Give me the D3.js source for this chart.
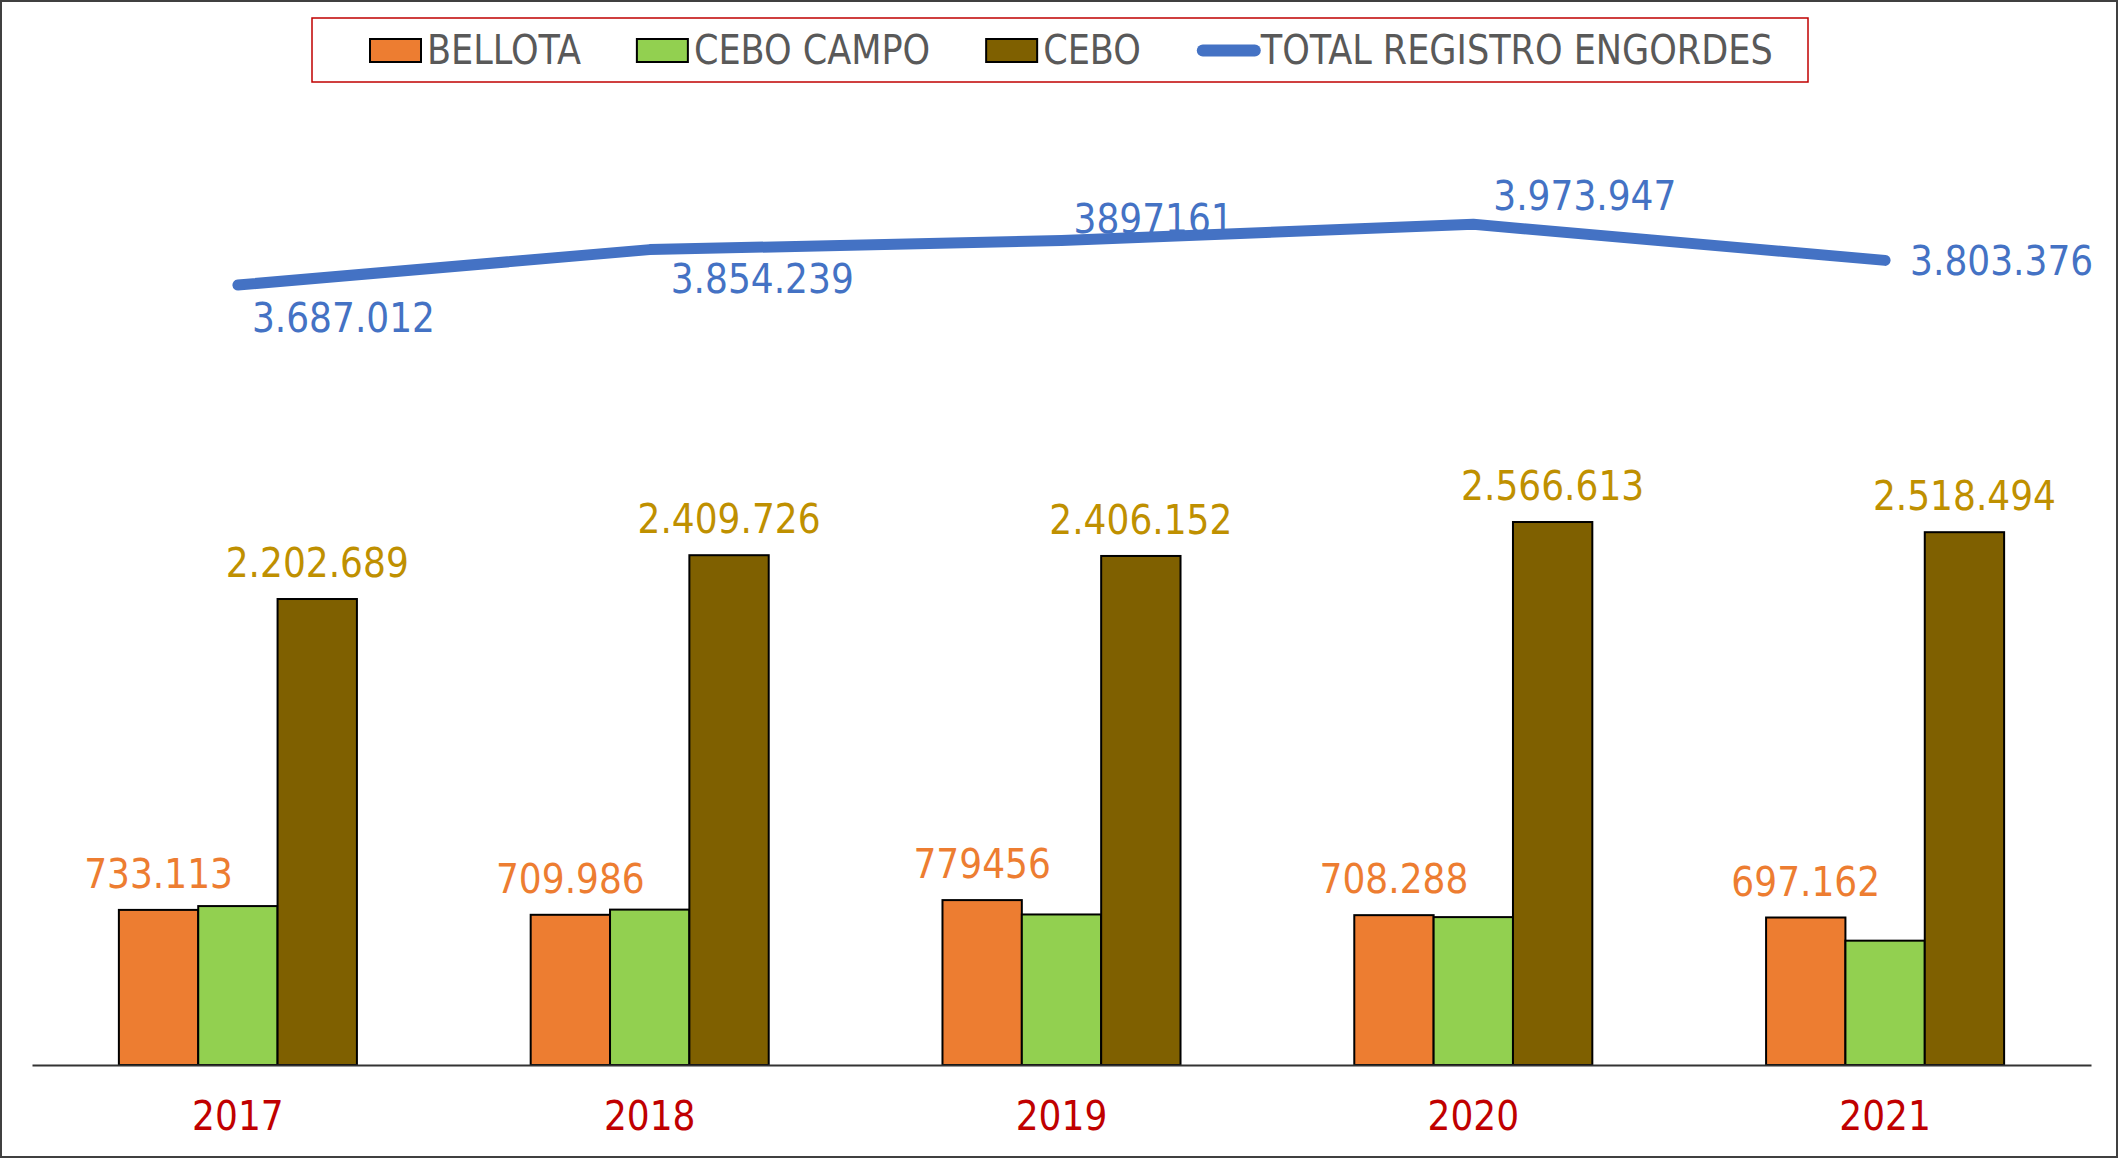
<!DOCTYPE html>
<html>
<head>
<meta charset="utf-8">
<script src="https://cdn.jsdelivr.net/npm/d3@7"></script>
<style>
    html, body { margin: 0; padding: 0; background: #fff; }
    svg { display: block; }
    .num { font-family: "DejaVu Sans Condensed", "DejaVu Sans", sans-serif; font-stretch: condensed; font-size: 40px; }
    .leg { font-family: "DejaVu Sans Condensed", "DejaVu Sans", sans-serif; font-stretch: condensed; font-size: 39px; fill: #595959; }
</style>
</head>
<body>
<svg id="chart" width="2118" height="1158"></svg>
<script>
// data
const years = ["2017", "2018", "2019", "2020", "2021"];
const bellota = [733113, 709986, 779456, 708288, 697162];
const ceboCampo = [751210, 734527, 711553, 699046, 587720];
const cebo = [2202689, 2409726, 2406152, 2566613, 2518494];
const total = [3687012, 3854239, 3897161, 3973947, 3803376];

// labels as printed in the original
const bellotaLabels = ["733.113", "709.986", "779456", "708.288", "697.162"];
const ceboLabels = ["2.202.689", "2.409.726", "2.406.152", "2.566.613", "2.518.494"];
const totalLabels = ["3.687.012", "3.854.239", "3897161", "3.973.947", "3.803.376"];

const seriesNames = ["BELLOTA", "CEBO CAMPO", "CEBO"];
const lineName = "TOTAL REGISTRO ENGORDES";

const colors = { "BELLOTA": "#ED7D31", "CEBO CAMPO": "#92D050", "CEBO": "#7F6000" };
const lineColor = "#4472C4";

// label nudges (the original labels were moved by hand)
const totalDx = [14, 21, 12, 20, 25];
const totalDy = [47, 43, -8, -14, 15];

const svg = d3.select("#chart");

const x = d3.scaleBand().domain(years).range([32, 2091]).padding(0);
const y = d3.scaleLinear().domain([0, 4500000]).range([1065, 113]);

const gap = 2.19;
const barW = x.bandwidth() / (seriesNames.length + gap);
const xs = d3.scaleBand().domain(seriesNames).range([0, barW * seriesNames.length]);
const groupOff = (x.bandwidth() - barW * seriesNames.length) / 2;

const seriesData = {
    "BELLOTA": bellota,
    "CEBO CAMPO": ceboCampo,
    "CEBO": cebo
};

// outer frame
svg.append("rect")
    .attr("x", 1).attr("y", 1)
    .attr("width", 2116).attr("height", 1156)
    .attr("fill", "#fff")
    .attr("stroke", "#404040")
    .attr("stroke-width", 2);

// bars
seriesNames.forEach(name => {
    svg.append("g")
        .selectAll("rect")
        .data(seriesData[name])
        .join("rect")
        .attr("x", (d, i) => x(years[i]) + groupOff + xs(name))
        .attr("y", d => y(d))
        .attr("width", xs.bandwidth())
        .attr("height", d => y(0) - y(d))
        .attr("fill", colors[name])
        .attr("stroke", "#000")
        .attr("stroke-width", 2);
});

// bar labels
svg.append("g")
    .selectAll("text")
    .data(bellota)
    .join("text")
    .attr("class", "num")
    .attr("x", (d, i) => x(years[i]) + groupOff + xs("BELLOTA") + xs.bandwidth() / 2)
    .attr("y", d => y(d) - 22)
    .attr("text-anchor", "middle")
    .attr("fill", "#ED7D31")
    .text((d, i) => bellotaLabels[i]);

svg.append("g")
    .selectAll("text")
    .data(cebo)
    .join("text")
    .attr("class", "num")
    .attr("x", (d, i) => x(years[i]) + groupOff + xs("CEBO") + xs.bandwidth() / 2)
    .attr("y", d => y(d) - 22)
    .attr("text-anchor", "middle")
    .attr("fill", "#BF9000")
    .text((d, i) => ceboLabels[i]);

// x axis
const axis = svg.append("g")
    .attr("transform", `translate(0,${y(0)})`)
    .call(d3.axisBottom(x).tickSize(0).tickSizeOuter(0));
axis.select(".domain").attr("stroke", "#333").attr("stroke-width", 2);
axis.selectAll("text")
    .attr("class", "num")
    .attr("y", 65)
    .attr("dy", 0)
    .attr("fill", "#C00000")
    .style("font-size", "40px");

// total line
const line = d3.line()
    .x((d, i) => x(years[i]) + x.bandwidth() / 2)
    .y(d => y(d));

svg.append("path")
    .datum(total)
    .attr("d", line)
    .attr("fill", "none")
    .attr("stroke", lineColor)
    .attr("stroke-width", 11)
    .attr("stroke-linecap", "round")
    .attr("stroke-linejoin", "round");

svg.append("g")
    .selectAll("text")
    .data(total)
    .join("text")
    .attr("class", "num")
    .attr("x", (d, i) => x(years[i]) + x.bandwidth() / 2 + totalDx[i])
    .attr("y", (d, i) => y(d) + totalDy[i])
    .attr("fill", lineColor)
    .text((d, i) => totalLabels[i]);

// legend
svg.append("rect")
    .attr("x", 312).attr("y", 18)
    .attr("width", 1496).attr("height", 64)
    .attr("fill", "none")
    .attr("stroke", "#C00000")
    .attr("stroke-width", 1.5);

const legend = svg.append("g");

function legendText(tx, label) {
    return legend.append("text")
        .attr("class", "leg")
        .attr("transform", `translate(${tx},64) scale(1,1.06)`)
        .text(label);
}

let lx = 370;
seriesNames.forEach(name => {
    legend.append("rect")
        .attr("x", lx).attr("y", 39)
        .attr("width", 51).attr("height", 23)
        .attr("fill", colors[name])
        .attr("stroke", "#000")
        .attr("stroke-width", 2);
    const t = legendText(lx + 57, name);
    lx = lx + 57 + t.node().getComputedTextLength() + 56;
});
legend.append("line")
    .attr("x1", lx + 6).attr("x2", lx + 58)
    .attr("y1", 50.5).attr("y2", 50.5)
    .attr("stroke", lineColor)
    .attr("stroke-width", 12)
    .attr("stroke-linecap", "round");
legendText(lx + 64, lineName);
</script>
</body>
</html>
